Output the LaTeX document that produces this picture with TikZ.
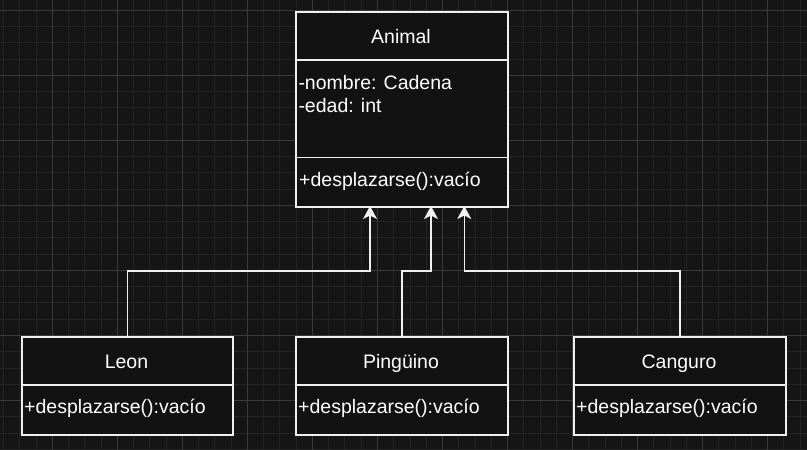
\documentclass[tikz,border=0pt]{standalone}
\usepackage{fontspec}
\setmainfont{Liberation Sans}
\usetikzlibrary{arrows.meta}
\definecolor{bgc}{HTML}{151515}
\definecolor{boxfill}{HTML}{121212}
\definecolor{minorc}{HTML}{232323}
\definecolor{majorc}{HTML}{3A3A3A}
\definecolor{linec}{HTML}{F0F0F0}
\tikzset{
  minorline/.style={draw=minorc, line width=1pt},
  majorline/.style={draw=majorc, line width=1pt},
  classbox/.style={draw=linec, fill=boxfill, line width=1.6pt, anchor=north west, inner sep=0pt},
  sepline/.style={draw=linec, line width=1.6pt},
  txt/.style={text=white, font=\fontsize{19.5}{23}\selectfont, inner sep=0pt},
  inh/.style={draw=linec, line width=1.6pt, -{Stealth[length=13pt,width=14pt,inset=3.5pt,fill=linec]}}
}
\begin{document}
\begin{tikzpicture}[x=1pt,y=-1pt]
\fill[bgc] (0,0) rectangle (807,450);
\useasboundingbox (0,0) rectangle (807,450);
% grid
\foreach \i in {0,...,49} {\draw[minorline] ({3.5+16.26*\i},0) -- ({3.5+16.26*\i},450);}
\foreach \i in {0,...,28} {\draw[minorline] (0,{-5.96+16.26*\i}) -- (807,{-5.96+16.26*\i});}
\foreach \i in {0,...,11} {\draw[majorline] ({52.3+65.04*\i},0) -- ({52.3+65.04*\i},450);}
\foreach \i in {0,...,6} {\draw[majorline] (0,{10.3+65.04*\i}) -- (807,{10.3+65.04*\i});}

% Animal
\node[classbox, minimum width=212pt, minimum height=195pt] (animal) at (295,11) {};
\draw[sepline] (295,60) -- (507,60);
\draw[sepline] (295,157.3) -- (507,157.3);
\node[txt, anchor=base] (animalname) at (401,43.3) {Animal};
\node[txt, anchor=base west] (attr1) at (298.3,89.3) {-nombre: Cadena};
\node[txt, anchor=base west] (attr2) at (298.3,112.7) {-edad: int};
\node[txt, anchor=base west] (animalm) at (299,186.7) {+desplazarse():vacío};

% Leon
\node[classbox, minimum width=211pt, minimum height=98pt] (leon) at (21,336) {};
\draw[sepline] (21,384.7) -- (232,384.7);
\node[txt, anchor=base] (leonname) at (126.5,368.3) {Leon};
\node[txt, anchor=base west] (leonm) at (24,413.3) {+desplazarse():vacío};

% Pinguino
\node[classbox, minimum width=212pt, minimum height=98pt] (ping) at (295,336) {};
\draw[sepline] (295,384.7) -- (507,384.7);
\node[txt, anchor=base] (pingname) at (401,368.3) {Pingüino};
\node[txt, anchor=base west] (pingm) at (298,413.3) {+desplazarse():vacío};

% Canguro
\node[classbox, minimum width=212pt, minimum height=98pt] (cang) at (573,336) {};
\draw[sepline] (573,384.7) -- (785,384.7);
\node[txt, anchor=base] (cangname) at (679,368.3) {Canguro};
\node[txt, anchor=base west] (cangm) at (576,413.3) {+desplazarse():vacío};

% connectors
\coordinate (t1) at (370,206);
\coordinate (t2) at (431,206);
\coordinate (t3) at (464.3,206);
\coordinate (mid) at (0,271);
\draw[inh] (leon.north) -- (leon.north |- mid) -| (t1);
\draw[inh] (ping.north) -- (ping.north |- mid) -| (t2);
\draw[inh] (cang.north) -- (cang.north |- mid) -| (t3);
\end{tikzpicture}
\end{document}
